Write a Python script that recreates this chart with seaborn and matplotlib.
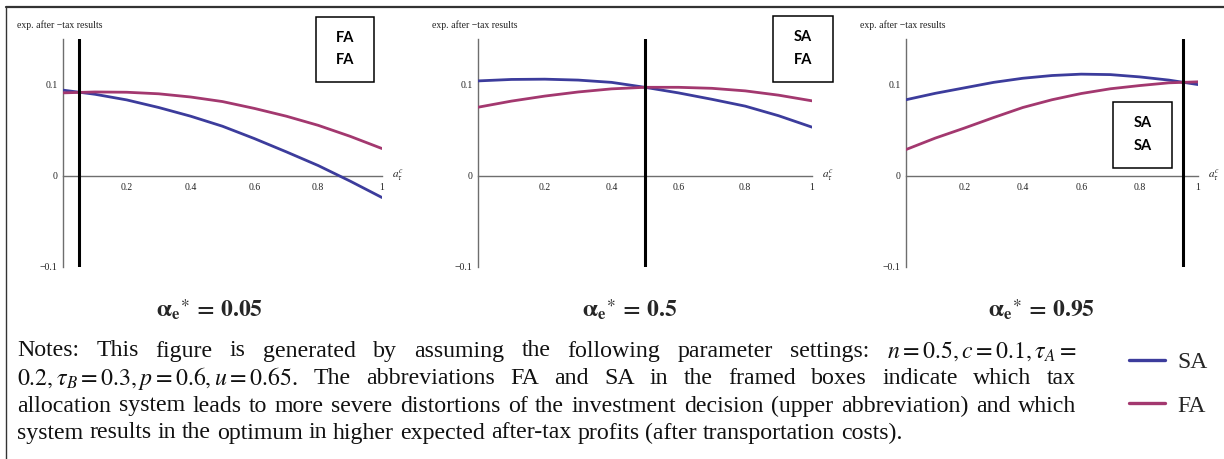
import numpy as np
import pandas as pd
import matplotlib
matplotlib.use("Agg")
import matplotlib.pyplot as plt
import seaborn as sns
from matplotlib.lines import Line2D
from matplotlib.patches import Rectangle

# ---------------- data ----------------
x_grid = [0.0, 0.1, 0.2, 0.3, 0.4, 0.5, 0.6, 0.7, 0.8, 0.9, 1.0]

p1_sa = [0.0935, 0.0890, 0.0828, 0.0745, 0.0650, 0.0540, 0.0405, 0.0260, 0.0110, -0.0060, -0.0240]
p1_fa = [0.0905, 0.0915, 0.0912, 0.0895, 0.0860, 0.0810, 0.0735, 0.0650, 0.0550, 0.0430, 0.0296]

p2_sa = [0.1036, 0.1052, 0.1055, 0.1045, 0.1020, 0.0966, 0.0905, 0.0835, 0.0760, 0.0655, 0.0530]
p2_fa = [0.0748, 0.0815, 0.0870, 0.0915, 0.0949, 0.0966, 0.0966, 0.0955, 0.0927, 0.0880, 0.0818]

p3_sa = [0.0830, 0.0900, 0.0960, 0.1020, 0.1065, 0.1095, 0.1110, 0.1105, 0.1080, 0.1045, 0.0996]
p3_fa = [0.0285, 0.0410, 0.0520, 0.0635, 0.0745, 0.0830, 0.0898, 0.0950, 0.0985, 0.1015, 0.1026]

alpha_star = [0.05, 0.5, 0.95]
alpha_labels = ["0.05", "0.5", "0.95"]
box_upper = ["FA", "SA", "SA"]
box_lower = ["FA", "FA", "SA"]

x_ticks = [0.2, 0.4, 0.6, 0.8, 1.0]
x_ticklabels = ["0.2", "0.4", "0.6", "0.8", "1"]
y_ticks = [-0.1, 0.0, 0.1]
y_ticklabels = ["\u22120.1", "0", "0.1"]

systems = ["SA", "FA"]
colors = {"SA": "#3c3c9c", "FA": "#a3386f"}

panels = [(p1_sa, p1_fa), (p2_sa, p2_fa), (p3_sa, p3_fa)]

# ---------------- style ----------------
sns.set_theme(style="white")
plt.rcParams["font.family"] = ["Liberation Serif", "DejaVu Serif"]
plt.rcParams["mathtext.fontset"] = "stix"

W, H = 1224, 459
fig = plt.figure(figsize=(W / 100, H / 100), dpi=100)
fig.patch.set_facecolor("white")

def fx(px):
    return px / W

def fy(py):
    return 1 - py / H

axis_gray = "#6e6e6e"
ax_px = [(63, 382), (478, 812), (906, 1198)]
top_px, bot_px = 38.5, 267

for i, ((sa, fa), (x0, x1)) in enumerate(zip(panels, ax_px)):
    ax = fig.add_axes([fx(x0), fy(bot_px), fx(x1 - x0), (bot_px - top_px) / H])
    ax.set_facecolor("none")
    df = pd.DataFrame({
        "x": x_grid * 2,
        "y": sa + fa,
        "system": ["SA"] * len(sa) + ["FA"] * len(fa),
    })
    sns.lineplot(data=df, x="x", y="y", hue="system", hue_order=systems,
                 palette=colors, linewidth=2.0, legend=False, ax=ax, zorder=3)
    ax.axvline(alpha_star[i], color="black", lw=2.2, zorder=4)
    ax.set_xlim(0, 1)
    ax.set_ylim(-0.1, 0.15)
    for s in ["top", "right"]:
        ax.spines[s].set_visible(False)
    ax.spines["left"].set_position(("data", 0))
    ax.spines["bottom"].set_position(("data", 0))
    for s in ["left", "bottom"]:
        ax.spines[s].set_color(axis_gray)
        ax.spines[s].set_linewidth(1.0)
    ax.spines["left"].set_bounds(-0.1, 0.15)
    ax.set_xticks(x_ticks)
    ax.set_xticklabels(x_ticklabels)
    ax.set_yticks(y_ticks)
    ax.set_yticklabels(y_ticklabels)
    ax.tick_params(direction="in", length=3, width=0.8, color=axis_gray,
                   labelsize=7, pad=4, labelcolor="#222222")
    ax.tick_params(axis="x", pad=5)
    ax.set_xlabel("")
    ax.set_ylabel("")
    ax.annotate("exp. after \u2212tax results", xy=(0, 1), xycoords="axes fraction",
                xytext=(-33, 9.5), textcoords="offset points", ha="left", va="center",
                fontsize=7, color="#222222")
    ax.annotate(r"$a_{\tau}^{c}$", xy=(1, 0), xycoords="data",
                xytext=(7, 0), textcoords="offset points", ha="left", va="center",
                fontsize=8, color="#222222", annotation_clip=False)

# framed boxes
boxes_px = [(316, 17, 374, 82), (773, 16, 833, 82), (1113, 102, 1172, 168)]
for (bx0, by0, bx1, by1), up, lo in zip(boxes_px, box_upper, box_lower):
    fig.add_artist(Rectangle((fx(bx0), fy(by1)), fx(bx1 - bx0), (by1 - by0) / H,
                             transform=fig.transFigure, fill=False,
                             edgecolor="black", lw=1.1))
    cx = fx((bx0 + bx1) / 2)
    hh = by1 - by0
    fig.text(cx, fy(by0 + hh * 0.32), up, ha="center", va="center",
             fontsize=10.5, fontweight="bold", family="Lato", color="black")
    fig.text(cx, fy(by0 + hh * 0.66), lo, ha="center", va="center",
             fontsize=10.5, fontweight="bold", family="Lato", color="black")

# titles under panels
title_cx = [210, 630, 1042]
for cx, lab in zip(title_cx, alpha_labels):
    fig.text(fx(cx), fy(310),
             r"$\mathbf{\alpha_{e}}^{\ast}\mathbf{\,=\,%s}$" % lab,
             ha="center", va="center", fontsize=17)

# frame lines
fig.add_artist(Line2D([fx(6), 1], [fy(7), fy(7)], transform=fig.transFigure,
                      color="#333333", lw=1.6))
fig.add_artist(Line2D([fx(6), fx(6)], [fy(7), 0], transform=fig.transFigure,
                      color="#333333", lw=1.0))

# notes text (justified)
note_lines = [
    ["Notes:", "This", "figure", "is", "generated", "by", "assuming", "the", "following",
     "parameter", "settings:", r"$n=0.5,c=0.1,\tau_A=$"],
    [r"$0.2,\tau_B=0.3,p=0.6,u=0.65$.", "The", "abbreviations", "FA", "and", "SA", "in",
     "the", "framed", "boxes", "indicate", "which", "tax"],
    ["allocation", "system", "leads", "to", "more", "severe", "distortions", "of", "the",
     "investment", "decision", "(upper", "abbreviation)", "and", "which"],
    ["system", "results", "in", "the", "optimum", "in", "higher", "expected", "after-tax",
     "profits", "(after", "transportation", "costs)."],
]
justify = [True, True, True, False]
line_y = [351, 378, 406, 433]
left_px, right_px = 17, 1076
note_fs = 17.2

renderer = fig.canvas.get_renderer()
sp = fig.text(0, 0, "a a", fontsize=note_fs)
sp2 = fig.text(0, 0, "aa", fontsize=note_fs)
space_w = sp.get_window_extent(renderer).width - sp2.get_window_extent(renderer).width
sp.remove(); sp2.remove()

for words, just, py in zip(note_lines, justify, line_y):
    texts = [fig.text(0, fy(py), w, fontsize=note_fs, ha="left", va="center",
                      color="#111111") for w in words]
    widths = [t.get_window_extent(renderer).width for t in texts]
    if just and len(words) > 1:
        gap = (right_px - left_px - sum(widths)) / (len(words) - 1)
    else:
        gap = space_w
    xpos = left_px
    for t, w in zip(texts, widths):
        t.set_x(fx(xpos))
        xpos += w + gap

# legend
handles = [Line2D([], [], color=colors[s], lw=2.4) for s in systems]
fig.legend(handles, systems, loc="center left", bbox_to_anchor=(fx(1108), fy(384)),
           frameon=False, handlelength=1.5, labelspacing=0.95, fontsize=17,
           handletextpad=0.55)

fig.savefig("out.png", dpi=100, facecolor="white")
